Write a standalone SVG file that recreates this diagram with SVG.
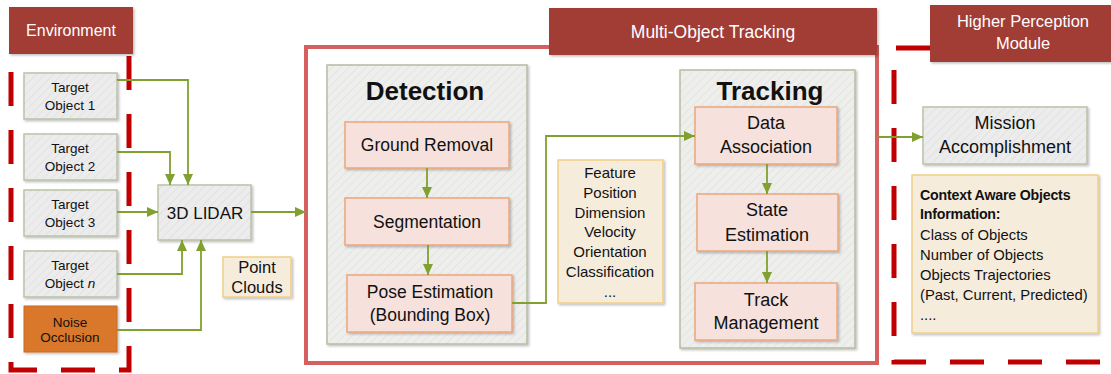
<svg xmlns="http://www.w3.org/2000/svg" width="1111" height="374" viewBox="0 0 1111 374">
<style>
text{font-family:"Liberation Sans",Arial,sans-serif;fill:#111;text-anchor:middle;dominant-baseline:central}
.hdr{fill:#a13c36}
.hdrt{fill:#fff;font-size:16px}
.gray{fill:url(#hatch);stroke:#b9c2a6;stroke-width:1.5;filter:url(#sh)}
.panel{fill:url(#hatch2);stroke:#b5bda3;stroke-width:1.5;filter:url(#sh)}
.pink{fill:#f6e1dc;stroke:#eba77a;stroke-width:1.5;filter:url(#sh)}
.note{fill:#f6ecdc;stroke:#f1cf86;stroke-width:1.5;filter:url(#sh)}
.orange{fill:#d9772a;stroke:#c96a20;stroke-width:1;filter:url(#sh)}
.dash{fill:none;stroke:#c00000;stroke-width:5;stroke-dasharray:34 24}
.con{fill:none;stroke:#80a030;stroke-width:1.8;marker-end:url(#ah)}
.t13{font-size:13.5px}
.t16{font-size:16px}
.t18{font-size:18px}
.big{font-size:26px;font-weight:bold}
.ctx{text-anchor:start;font-size:14.8px}
.ctxb{text-anchor:start;font-size:14.2px;font-weight:bold;letter-spacing:-0.2px}
</style>
<defs>
<pattern id="hatch" width="6" height="6" patternUnits="userSpaceOnUse" patternTransform="rotate(45)">
<rect width="6" height="6" fill="#ececec"/>
<line x1="0" y1="0" x2="0" y2="6" stroke="#e2e2e2" stroke-width="2"/>
</pattern>
<pattern id="hatch2" width="6" height="6" patternUnits="userSpaceOnUse" patternTransform="rotate(45)">
<rect width="6" height="6" fill="#eeeeec"/>
<line x1="0" y1="0" x2="0" y2="6" stroke="#e4e4e2" stroke-width="2"/>
</pattern>
<filter id="sh" x="-10%" y="-10%" width="130%" height="130%">
<feDropShadow dx="1.5" dy="1.5" stdDeviation="1" flood-color="#000" flood-opacity="0.25"/>
</filter>
<marker id="ah" markerUnits="userSpaceOnUse" markerWidth="11" markerHeight="10" refX="11" refY="5" orient="auto">
<path d="M0,0 L11,5 L0,10 z" fill="#80a030"/>
</marker>
</defs>

<!-- Environment region -->
<g id="environment">
<path class="dash" d="M129 56 V370 H11 V62"/>
<rect class="hdr" x="9" y="7" width="124" height="47" filter="url(#sh)"/>
<text class="hdrt" x="71" y="30">Environment</text>
</g>

<!-- MOT region -->
<g id="mot">
<rect x="306" y="47" width="571" height="316" fill="none" stroke="#d66060" stroke-width="4"/>
<rect class="hdr" x="549" y="8" width="328" height="47" filter="url(#sh)"/>
<text class="hdrt" x="713" y="32" style="font-size:17.5px">Multi-Object Tracking</text>
</g>

<!-- Higher perception region -->
<g id="higher-perception">
<path class="dash" d="M930 48 H894 V362 H1111"/>
<rect class="hdr" x="930" y="5" width="181" height="57" filter="url(#sh)"/>
<text class="hdrt" x="1023" y="21" style="font-size:16.5px">Higher Perception</text>
<text class="hdrt" x="1023" y="43" style="font-size:16.5px">Module</text>
</g>

<g id="target1"><rect class="gray" x="24" y="73" width="93" height="46"/><text class="t13" x="70" y="87">Target</text><text class="t13" x="70" y="105">Object 1</text></g>
<g id="target2"><rect class="gray" x="24" y="134" width="93" height="46"/><text class="t13" x="70" y="148">Target</text><text class="t13" x="70" y="166">Object 2</text></g>
<g id="target3"><rect class="gray" x="24" y="190" width="93" height="46"/><text class="t13" x="70" y="204">Target</text><text class="t13" x="70" y="222">Object 3</text></g>
<g id="targetn"><rect class="gray" x="24" y="251" width="93" height="46"/><text class="t13" x="70" y="265">Target</text><text class="t13" x="70" y="283">Object <tspan font-style="italic">n</tspan></text></g>
<g id="noise"><rect class="orange" x="24" y="306" width="93" height="46"/><text class="t13" x="70" y="322">Noise</text><text class="t13" x="70" y="337">Occlusion</text></g>

<g id="lidar"><rect class="gray" x="158" y="185" width="93" height="55"/><text x="205" y="213" style="font-size:17px">3D LIDAR</text></g>
<g id="pointclouds"><rect class="note" x="223" y="257" width="68" height="40"/><text x="257" y="267" style="font-size:16.5px">Point</text><text x="257" y="287" style="font-size:16.5px">Clouds</text></g>

<g id="detection">
<rect class="panel" x="327" y="65" width="200" height="279"/>
<text class="big" x="425" y="91">Detection</text>
</g>
<g id="ground-removal"><rect class="pink" x="345" y="122" width="164" height="46"/><text class="t18" x="427" y="145" style="font-size:17.5px">Ground Removal</text></g>
<g id="segmentation"><rect class="pink" x="345" y="198" width="164" height="47"/><text class="t18" x="427" y="222" style="font-size:17.5px">Segmentation</text></g>
<g id="pose-estimation"><rect class="pink" x="347" y="275" width="165" height="57"/><text class="t18" x="430" y="292" style="font-size:17.5px">Pose Estimation</text><text class="t18" x="430" y="315" style="font-size:17.5px">(Bounding Box)</text></g>

<g id="features"><rect class="note" x="558" y="160" width="105" height="143"/>
<text x="610" y="172" style="font-size:15px">Feature</text>
<text x="610" y="192" style="font-size:15px">Position</text>
<text x="610" y="212" style="font-size:15px">Dimension</text>
<text x="610" y="231" style="font-size:15px">Velocity</text>
<text x="610" y="251" style="font-size:15px">Orientation</text>
<text x="610" y="271" style="font-size:15px">Classification</text>
<text x="610" y="291" style="font-size:15px">...</text>
</g>

<g id="tracking">
<rect class="panel" x="680" y="70" width="175" height="278"/>
<text class="big" x="770" y="91">Tracking</text>
</g>
<g id="data-association"><rect class="pink" x="695" y="107" width="142" height="57"/><text class="t18" x="766" y="123">Data</text><text class="t18" x="766" y="147">Association</text></g>
<g id="state-estimation"><rect class="pink" x="697" y="194" width="141" height="57"/><text class="t18" x="767" y="210">State</text><text class="t18" x="767" y="235">Estimation</text></g>
<g id="track-management"><rect class="pink" x="695" y="283" width="142" height="57"/><text class="t18" x="766" y="300">Track</text><text class="t18" x="766" y="323">Management</text></g>

<g id="mission"><rect class="gray" x="923" y="107" width="164" height="57"/><text class="t18" x="1005" y="123">Mission</text><text class="t18" x="1005" y="147">Accomplishment</text></g>

<g id="context"><rect class="note" x="912" y="175" width="186" height="158"/>
<text class="ctxb" x="920" y="195">Context Aware Objects</text>
<text class="ctxb" x="920" y="214">Information:</text>
<text class="ctx" x="920" y="235">Class of Objects</text>
<text class="ctx" x="920" y="255">Number of Objects</text>
<text class="ctx" x="920" y="275">Objects Trajectories</text>
<text class="ctx" x="920" y="295">(Past, Current, Predicted)</text>
<text class="ctx" x="920" y="315">....</text>
</g>

<g id="connectors">
<path class="con" d="M117 80 H188 V185"/>
<path class="con" d="M117 152 H170 V185"/>
<path class="con" d="M117 212 H158"/>
<path class="con" d="M117 274 H182 V240"/>
<path class="con" d="M117 330 H201 V240"/>
<path class="con" d="M251 212 H306"/>
<path class="con" d="M427 168 V198"/>
<path class="con" d="M428 245 V275"/>
<path class="con" d="M512 303 H546 V136 H695"/>
<path class="con" d="M767 164 V194"/>
<path class="con" d="M767 251 V283"/>
<path class="con" d="M877 137 H923"/>
</g>
</svg>
